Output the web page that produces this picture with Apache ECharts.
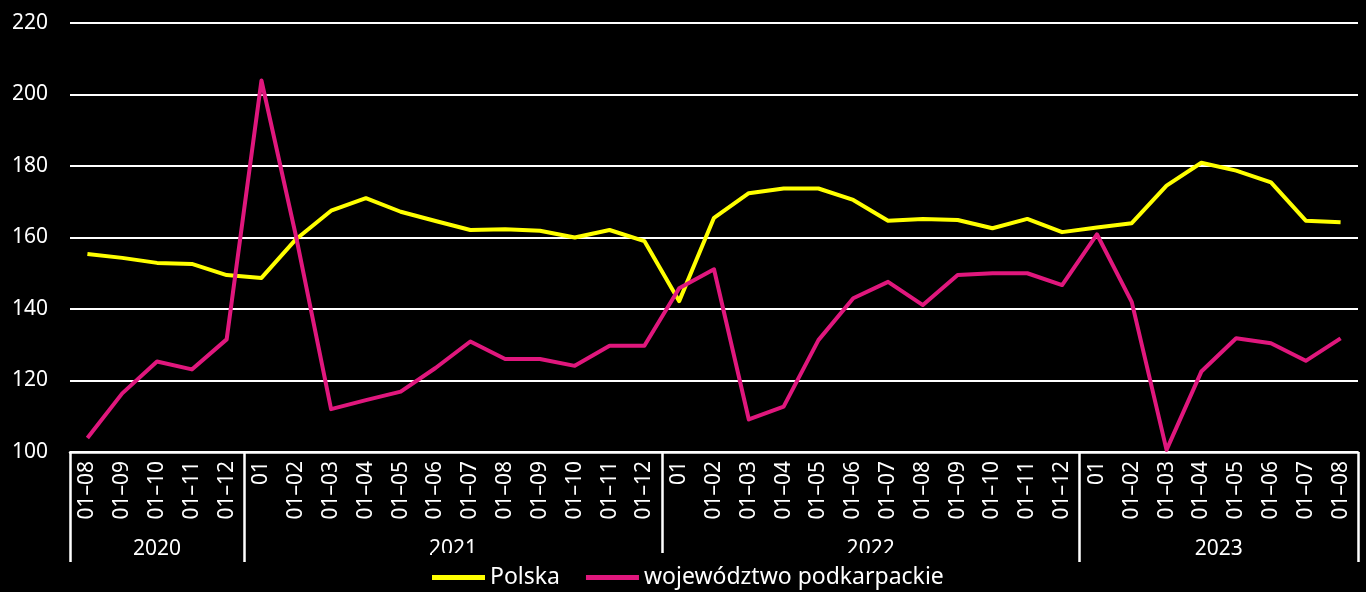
<!DOCTYPE html>
<html>
<head>
<meta charset="utf-8">
<script src="https://cdn.jsdelivr.net/npm/echarts@6/dist/echarts.min.js"></script>
<style>
  html, body { margin: 0; padding: 0; background: #000; }
  #chart { width: 1366px; height: 592px; }
</style>
</head>
<body>
<div id="chart"></div>
<script>
// groups of months (year -> month labels)
var years = ['2020', '2021', '2022', '2023'];
var months2020 = ['01–08', '01–09', '01–10', '01–11', '01–12'];
var months2021 = ['01', '01–02', '01–03', '01–04', '01–05', '01–06', '01–07', '01–08', '01–09', '01–10', '01–11', '01–12'];
var months2022 = ['01', '01–02', '01–03', '01–04', '01–05', '01–06', '01–07', '01–08', '01–09', '01–10', '01–11', '01–12'];
var months2023 = ['01', '01–02', '01–03', '01–04', '01–05', '01–06', '01–07', '01–08'];
var yTicks = [100, 120, 140, 160, 180, 200, 220];

var polska = [
    155.4, 154.3, 152.9, 152.6, 149.5,
    148.7, 159.6, 167.5, 171.0, 167.2, 164.6, 162.1, 162.3, 161.9, 160.0, 162.1, 159.0,
    142.2, 165.5, 172.4, 173.7, 173.7, 170.5, 164.7, 165.2, 164.9, 162.6, 165.2, 161.5,
    162.8, 164.0, 174.5, 180.9, 178.7, 175.4, 164.7, 164.3
];
var podkarpackie = [
    103.9, 116.4, 125.3, 123.1, 131.5,
    203.9, 160.0, 112.0, 114.5, 116.9, 123.5, 130.9, 126.0, 126.0, 124.1, 129.7, 129.7,
    145.8, 151.1, 109.1, 112.7, 131.3, 143.0, 147.6, 141.1, 149.5, 150.0, 150.0, 146.7,
    160.9, 142.0, 100.6, 122.5, 131.8, 130.4, 125.5, 131.8
];

var groups = [months2020, months2021, months2022, months2023];
var categories = [].concat.apply([], groups);

// group boundaries and centres, in category units
var bounds = [0], centres = [];
groups.forEach(function (g) {
    var start = bounds[bounds.length - 1];
    centres.push(start + g.length / 2);
    bounds.push(start + g.length);
});

var font = 'Noto Sans';
var chart = echarts.init(document.getElementById('chart'));
chart.setOption({
    backgroundColor: '#000',
    animation: false,
    textStyle: { fontFamily: font },
    grid: { left: 70, right: 8, top: 23, bottom: 140 },
    legend: {
        bottom: 0,
        left: 432,
        backgroundColor: '#000',
        padding: [13, 6, 3, 0],
        icon: 'rect',
        itemWidth: 53,
        itemHeight: 5,
        itemGap: 26,
        textStyle: { color: '#fff', fontSize: 23, fontFamily: font },
        data: ['Polska', 'województwo podkarpackie']
    },
    xAxis: [{
        type: 'category',
        data: categories,
        boundaryGap: true,
        axisLine: { lineStyle: { color: '#fff', width: 2.5 } },
        axisTick: { show: false },
        axisLabel: {
            rotate: 90,
            interval: 0,
            margin: 9,
            color: '#fff',
            fontSize: 21,
            fontFamily: font
        },
        splitLine: { show: false }
    }, {
        type: 'value',
        position: 'bottom',
        min: 0,
        max: categories.length,
        axisLine: { show: false },
        axisTick: {
            show: true,
            customValues: bounds,
            length: 110,
            lineStyle: { color: '#fff', width: 2.5 }
        },
        axisLabel: {
            customValues: centres,
            margin: 87,
            color: '#fff',
            fontSize: 21,
            fontFamily: font,
            formatter: function (v) {
                return years[centres.indexOf(v)];
            }
        },
        splitLine: { show: false }
    }],
    yAxis: {
        type: 'value',
        min: yTicks[0],
        max: yTicks[yTicks.length - 1],
        interval: 20,
        axisLine: { show: false },
        axisTick: { show: false },
        axisLabel: { color: '#fff', fontSize: 21, margin: 22, fontFamily: font },
        splitLine: { lineStyle: { color: '#fff', width: 2 } }
    },
    series: [{
        name: 'Polska',
        type: 'line',
        xAxisIndex: 0,
        data: polska,
        symbol: 'none',
        lineStyle: { color: '#ffff00', width: 4, join: 'round' },
        itemStyle: { color: '#ffff00' }
    }, {
        name: 'województwo podkarpackie',
        type: 'line',
        xAxisIndex: 0,
        data: podkarpackie,
        symbol: 'none',
        lineStyle: { color: '#e0177d', width: 4, join: 'round' },
        itemStyle: { color: '#e0177d' }
    }]
});
window.onresize = chart.resize;
</script>
</body>
</html>
